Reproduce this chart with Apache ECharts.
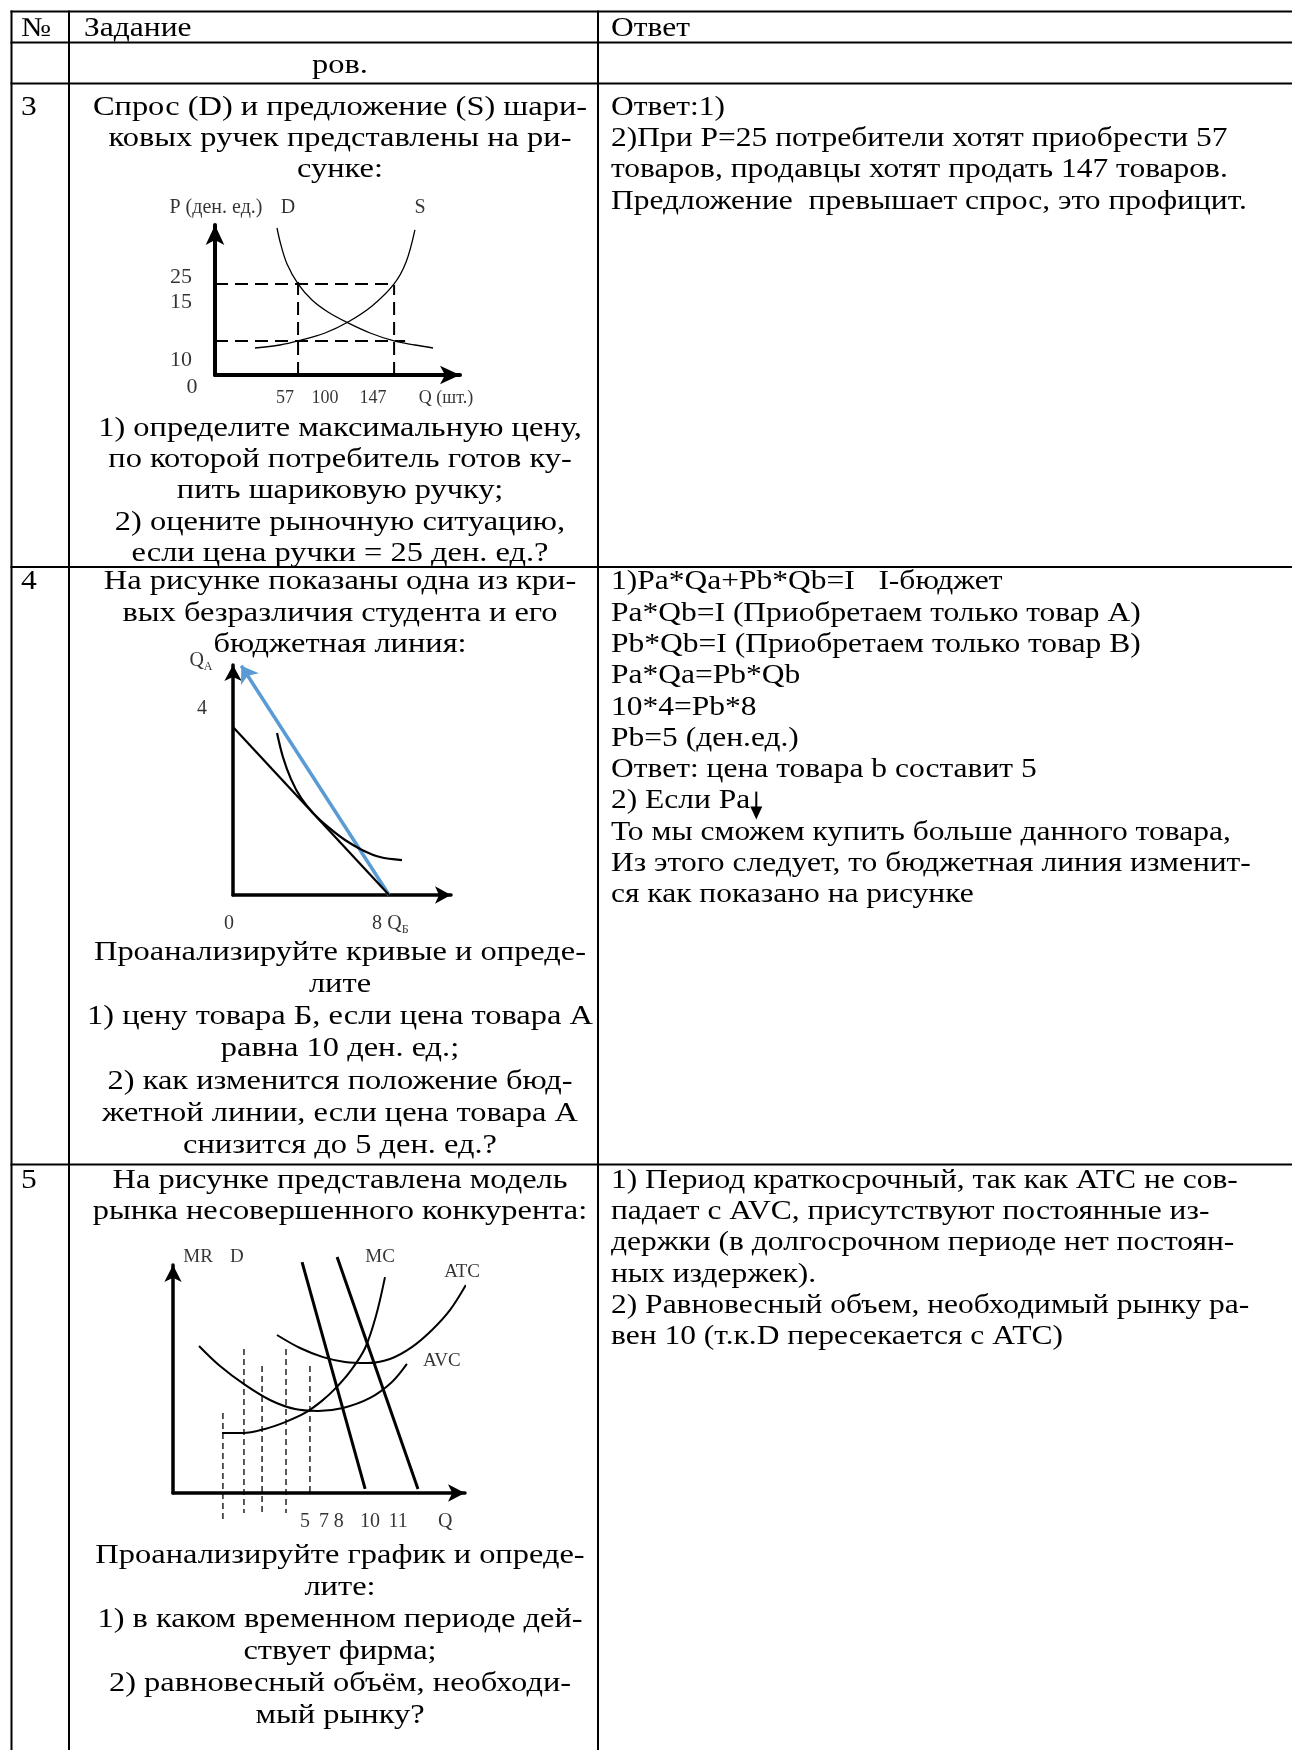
<!DOCTYPE html>
<html>
<head>
<meta charset="utf-8">
<script src="https://cdn.jsdelivr.net/npm/echarts@6/dist/echarts.min.js"></script>
<style>
html, body { margin: 0; padding: 0; background: #fff; }
#main { width: 1292px; height: 1750px; }
</style>
</head>
<body>
<div id="main"></div>
<script>
// ---- данные рисунков (условные единицы 0..100) ----
// рис. 1 - спрос и предложение
var d1Demand = [[25.3, 98.0], [26.9, 86.7], [29.4, 74.0], [33.9, 60.7], [39.6, 50.0], [46.1, 42.0], [54.3, 34.7], [63.3, 28.0], [73.1, 22.7], [81.6, 20.0], [89.0, 18.0]];
var d1Supply = [[16.3, 18.0], [26.5, 20.0], [33.9, 22.7], [44.9, 28.0], [54.3, 35.3], [64.1, 46.0], [73.1, 60.7], [78.0, 75.3], [81.6, 96.7]];
var d1Dashed = [
  [[0, 60.7], [72.7, 60.7]],
  [[0, 22.7], [77.6, 22.7]],
  [[33.9, 0], [33.9, 65.3]],
  [[73.1, 0], [73.1, 60.0]]
];
var d1Titles = [[0.4, 111.3, 'P (ден. ед.)'], [29.8, 111.3, 'D'], [83.7, 111.3, 'S']];
var d1PriceTicks = [[-13.9, 65.3, '25'], [-13.9, 48.7, '15'], [-13.9, 10, '10'], [-9.4, -8, '0']];
var d1QtyTicks = [[28.6, -15.3, '57'], [44.9, -15.3, '100'], [64.5, -15.3, '147'], [94.3, -15.3, 'Q (шт.)']];

// рис. 2 - кривая безразличия и бюджетная линия
var d2Budget = [[0, 73.0], [71.6, 0]];
var d2NewBudget = [[71.6, 0], [3.8, 99.7]];
var d2Indiff = [[20.2, 70.4], [22.9, 60.0], [26.6, 50.4], [31.2, 42.2], [36.7, 35.7], [43.6, 29.6], [51.4, 23.9], [59.2, 19.6], [67.4, 16.5], [77.5, 15.2]];
var d2Labels = [[-14.7, 101.7, '{q|Q}{s|A}'], [-14.2, 81, '4'], [-1.8, -12.7, '0'], [66.1, -12.7, '8'], [75.7, -12.7, '{q|Q}{s|Б}']];

// рис. 3 - несовершенная конкуренция
var d3MR = [[44.2, 101.3], [65.8, 1.8]];
var d3D = [[56.2, 103.5], [83.9, 1.8]];
var d3MC = [[16.8, 26.3], [24.0, 26.3], [31.5, 28.1], [38.4, 31.1], [45.2, 35.1], [51.0, 40.4], [55.8, 46.1], [61.0, 53.9], [65.8, 63.6], [69.5, 77.6], [72.6, 94.7]];
var d3ATC = [[35.6, 69.3], [43.5, 63.6], [51.4, 59.6], [58.9, 57.5], [66.4, 57.0], [74.3, 58.8], [81.8, 64.0], [88.7, 71.5], [94.9, 80.3], [100.3, 91.2]];
var d3AVC = [[8.9, 64.5], [16.1, 55.7], [24.7, 47.4], [33.2, 40.8], [41.8, 36.8], [49.7, 36.0], [58.2, 37.3], [67.5, 41.7], [75.0, 48.7], [80.1, 56.6]];
var d3Dashed = [
  [[17.1, 35.1], [17.1, -12.7]],
  [[24.3, 63.2], [24.3, -8.8]],
  [[30.5, 55.7], [30.5, -8.8]],
  [[38.7, 63.2], [38.7, -8.8]],
  [[46.9, 55.7], [46.9, 0]]
];
var d3Titles = [[8.6, 103.5, 'MR'], [21.9, 103.5, 'D'], [70.9, 103.5, 'MC'], [99, 96.9, 'ATC'], [92.1, 57.9, 'AVC']];
var d3QtyTicks = [[45.2, -12.7, '5'], [51.7, -12.7, '7'], [56.8, -12.7, '8'], [67.5, -12.7, '10'], [77.1, -12.7, '11'], [93.2, -12.7, 'Q']];

// ---- тексты таблицы ----
var headerCells = ['№', 'Задание', 'Ответ'];
var rowNumbers = ['3', '4', '5'];
var row2Task = ['ров.'];
var row3TaskTop = ['Спрос (D) и предложение (S) шари-', 'ковых ручек представлены на ри-', 'сунке:'];
var row3TaskBottom = ['1) определите максимальную цену,', 'по которой потребитель готов ку-', 'пить шариковую ручку;', '2) оцените рыночную ситуацию,', 'если цена ручки = 25 ден. ед.?'];
var row3Answer = ['Ответ:1)', '2)При Р=25 потребители хотят приобрести 57', 'товаров, продавцы хотят продать 147 товаров.', 'Предложение  превышает спрос, это профицит.'];
var row4TaskTop = ['На рисунке показаны одна из кри-', 'вых безразличия студента и его', 'бюджетная линия:'];
var row4TaskBottom = ['Проанализируйте кривые и опреде-', 'лите', '1) цену товара Б, если цена товара А', 'равна 10 ден. ед.;', '2) как изменится положение бюд-', 'жетной линии, если цена товара А', 'снизится до 5 ден. ед.?'];
var row4Answer = ['1)Pa*Qa+Pb*Qb=I   I-бюджет', 'Pa*Qb=I (Приобретаем только товар А)', 'Pb*Qb=I (Приобретаем только товар В)', 'Pa*Qa=Pb*Qb', '10*4=Pb*8', 'Pb=5 (ден.ед.)', 'Ответ: цена товара b составит 5', '2) Если Pa', 'То мы сможем купить больше данного товара,', 'Из этого следует, то бюджетная линия изменит-', 'ся как показано на рисунке'];
var row5TaskTop = ['На рисунке представлена модель', 'рынка несовершенного конкурента:'];
var row5TaskBottom = ['Проанализируйте график и опреде-', 'лите:', '1) в каком временном периоде дей-', 'ствует фирма;', '2) равновесный объём, необходи-', 'мый рынку?'];
var row5Answer = ['1) Период краткосрочный, так как АТС не сов-', 'падает с AVC, присутствуют постоянные из-', 'держки (в долгосрочном периоде нет постоян-', 'ных издержек).', '2) Равновесный объем, необходимый рынку ра-', 'вен 10 (т.к.D пересекается с АТС)'];

// ---- разметка ----
var FONT = '"Liberation Serif", "Times New Roman", serif';
var FS = 31.5;
var LH = 31.3;
var SY = 0.86;          // текст в оригинале ниже, чем шире
var TASK_SX = 1.03;     // колонка "Задание" чуть шире
var W = 1292, H = 1750;
var xLeft = 11.5, xCol1 = 69, xCol2 = 598;
var yRows = [11.5, 42.5, 83.5, 567, 1164.5];
var taskCenter = 340, answerX = 611, numX = 21;

var graphics = [];
function hline(y) {
  graphics.push({ type: 'line', shape: { x1: xLeft - 1, y1: y, x2: W, y2: y }, style: { stroke: '#000', lineWidth: 2 } });
}
function vline(x) {
  graphics.push({ type: 'line', shape: { x1: x, y1: yRows[0] - 1, x2: x, y2: H }, style: { stroke: '#000', lineWidth: 2 } });
}
function text(x, base, s, align, sx) {
  graphics.push({ type: 'text', x: x, y: base - 0.34 * FS * SY, z: 10, scaleX: sx || 1, scaleY: SY,
    style: { text: s, font: FS + 'px ' + FONT, fill: '#000', align: align || 'left', verticalAlign: 'middle' } });
}
function block(x, base, arr, align, lh, sx) {
  arr.forEach(function (s, i) { text(x, base + i * (lh || LH), s, align, sx); });
}

yRows.forEach(hline);
[xLeft, xCol1, xCol2].forEach(vline);

text(numX, 38, headerCells[0]);
text(84, 38, headerCells[1]);
text(answerX, 38, headerCells[2]);
block(taskCenter, 75, row2Task, 'center', LH, TASK_SX);

text(numX, 117, rowNumbers[0]);
block(taskCenter, 117, row3TaskTop, 'center', LH, TASK_SX);
block(taskCenter, 438, row3TaskBottom, 'center', LH, TASK_SX);
block(answerX, 117, row3Answer);

text(numX, 591.5, rowNumbers[1]);
block(taskCenter, 591.5, row4TaskTop, 'center', LH, TASK_SX);
block(taskCenter, 962, row4TaskBottom, 'center', 32.2, TASK_SX);
block(answerX, 591.5, row4Answer);

text(numX, 1190, rowNumbers[2]);
block(taskCenter, 1190, row5TaskTop, 'center', LH, TASK_SX);
block(taskCenter, 1565, row5TaskBottom, 'center', 32, TASK_SX);
block(answerX, 1190, row5Answer);

// стрелка вниз после "Pa"
var ctx = document.createElement('canvas').getContext('2d');
ctx.font = FS + 'px ' + FONT;
var arrowX = answerX + ctx.measureText(row4Answer[7]).width + 6;
var arrowBase = 591.5 + 7 * LH;
graphics.push({ type: 'line', shape: { x1: arrowX, y1: arrowBase - 19, x2: arrowX, y2: arrowBase }, style: { stroke: '#000', lineWidth: 2 } });
graphics.push({ type: 'polygon', shape: { points: [[arrowX - 6, arrowBase - 4], [arrowX + 6, arrowBase - 4], [arrowX, arrowBase + 9]] }, style: { fill: '#000' } });

// ---- оси ----
function axis(gi, width, arrow) {
  return {
    type: 'value', gridIndex: gi, min: 0, max: 100,
    axisLine: { show: true, onZero: false, symbol: ['none', 'arrow'], symbolSize: arrow, lineStyle: { color: '#000', width: width } },
    axisTick: { show: false }, axisLabel: { show: false }, splitLine: { show: false }
  };
}
function curve(gi, data, width, smooth) {
  return { type: 'line', xAxisIndex: gi, yAxisIndex: gi, data: data, smooth: smooth, symbol: 'none', clip: false, silent: true,
    lineStyle: { color: '#000', width: width } };
}
function dashed(gi, data, width, dash) {
  return { type: 'line', xAxisIndex: gi, yAxisIndex: gi, data: data, symbol: 'none', clip: false, silent: true,
    lineStyle: { color: '#000', width: width, type: dash } };
}
function labels(gi, arr, size, subSize) {
  return {
    type: 'scatter', xAxisIndex: gi, yAxisIndex: gi, symbolSize: 1, clip: false, silent: true,
    itemStyle: { color: 'rgba(0,0,0,0)' },
    data: arr.map(function (d) { return { value: [d[0], d[1]], name: d[2] }; }),
    label: {
      show: true, position: 'inside', color: '#000', fontFamily: FONT, fontSize: size,
      formatter: function (p) { return p.name; },
      rich: {
        q: { fontFamily: FONT, fontSize: size, color: '#000' },
        s: { fontFamily: FONT, fontSize: subSize || 12, color: '#000', verticalAlign: 'bottom', padding: [0, 0, -2, 0] }
      }
    }
  };
}

var series = [];
// рис. 1
series.push(curve(0, d1Demand, 1.3, 0.35));
series.push(curve(0, d1Supply, 1.3, 0.35));
d1Dashed.forEach(function (d) { series.push(dashed(0, d, 2, [13, 7])); });
series.push(labels(0, d1Titles, 20));
series.push(labels(0, d1PriceTicks, 22));
series.push(labels(0, d1QtyTicks, 18));
// рис. 2
series.push(curve(1, d2Budget, 2.2, false));
series.push(curve(1, d2Indiff, 2.2, 0.35));
series.push({
  type: 'lines', coordinateSystem: 'cartesian2d', xAxisIndex: 1, yAxisIndex: 1, silent: true,
  symbol: ['none', 'arrow'], symbolSize: 16,
  lineStyle: { color: '#5b9bd5', width: 3.5, opacity: 1 },
  data: [{ coords: d2NewBudget }]
});
series.push(labels(1, d2Labels, 20, 12));
// рис. 3
series.push(curve(2, d3MR, 3, false));
series.push(curve(2, d3D, 3, false));
series.push(curve(2, d3MC, 2, 0.35));
series.push(curve(2, d3ATC, 2, 0.35));
series.push(curve(2, d3AVC, 2, 0.35));
d3Dashed.forEach(function (d) { series.push(dashed(2, d, 1.3, [6, 4])); });
series.push(labels(2, d3Titles, 19));
series.push(labels(2, d3QtyTicks, 20));

var chart = echarts.init(document.getElementById('main'));
chart.setOption({
  animation: false,
  backgroundColor: '#fff',
  grid: [
    { left: 215, top: 225, width: 245, height: 150 },
    { left: 233, top: 665, width: 218, height: 230 },
    { left: 173, top: 1265, width: 292, height: 228 }
  ],
  xAxis: [axis(0, 4, [14, 20]), axis(1, 3.5, [13, 16]), axis(2, 3.5, [13, 17])],
  yAxis: [axis(0, 4, [14, 20]), axis(1, 3.5, [13, 16]), axis(2, 3.5, [13, 17])],
  series: series,
  graphic: graphics
});
</script>
</body>
</html>
